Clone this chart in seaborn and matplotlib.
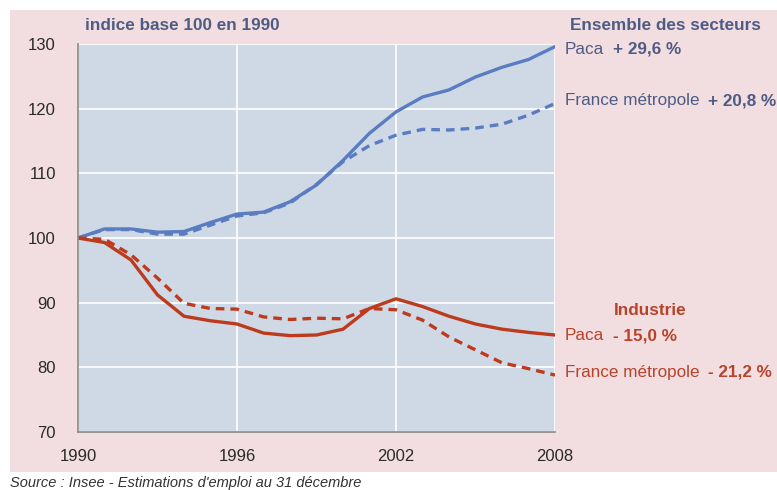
import matplotlib
matplotlib.use("Agg")
import matplotlib.pyplot as plt
import seaborn as sns
import pandas as pd
from matplotlib.patches import Rectangle

years = list(range(1990, 2009))
paca_total = [100, 101.4, 101.4, 100.9, 101.0, 102.4, 103.7, 104.0, 105.6, 108.2,
              112.0, 116.2, 119.5, 121.8, 122.9, 124.9, 126.4, 127.6, 129.6]
france_total = [100, 101.3, 101.3, 100.6, 100.6, 102.0, 103.4, 103.9, 105.4, 108.3,
                111.8, 114.3, 115.9, 116.8, 116.7, 117.0, 117.6, 119.0, 120.8]
paca_ind = [100, 99.3, 96.6, 91.2, 87.9, 87.2, 86.7, 85.3, 84.9, 85.0,
            85.9, 89.1, 90.6, 89.4, 87.9, 86.7, 85.9, 85.4, 85.0]
france_ind = [100, 99.8, 97.4, 93.8, 89.9, 89.1, 89.0, 87.8, 87.4, 87.6,
              87.5, 89.1, 88.9, 87.3, 84.7, 82.7, 80.7, 79.8, 78.8]

yticks = [70, 80, 90, 100, 110, 120, 130]
xticks = [1990, 1996, 2002, 2008]

BLUE = "#5a7cc0"
RED = "#bd3a1d"
BLUE_TXT = "#4e5c84"
RED_TXT = "#b8432a"
PINK = "#f2dde0"
PLOTBG = "#cfd9e6"

df = pd.DataFrame({
    "year": years * 4,
    "value": paca_total + france_total + paca_ind + france_ind,
    "series": (["pt"] * 19) + (["ft"] * 19) + (["pi"] * 19) + (["fi"] * 19),
})

sns.set_theme(style="white")
plt.rcParams["font.family"] = ["Liberation Sans", "DejaVu Sans"]

fig = plt.figure(figsize=(7.77, 4.90), dpi=100, facecolor="white")
fig.patches.append(Rectangle((10 / 777, 1 - 472 / 490), 767 / 777, 462 / 490,
                             transform=fig.transFigure, facecolor=PINK,
                             edgecolor="none", zorder=-10))
ax = fig.add_axes([78 / 777, 1 - 432 / 490, (555 - 78) / 777, (432 - 44) / 490])
ax.set_facecolor(PLOTBG)

styles = {"pt": (BLUE, ""), "ft": (BLUE, (2.6, 1.8)),
          "pi": (RED, ""), "fi": (RED, (2.6, 1.8))}
for key, (col, dash) in styles.items():
    sub = df[df["series"] == key]
    sns.lineplot(data=sub, x="year", y="value", ax=ax, color=col,
                 linewidth=2.4, legend=False)
    if dash:
        ax.lines[-1].set_dashes(dash)

ax.set_xlim(1990, 2008)
ax.set_ylim(70, 130)
ax.set_xticks(xticks)
ax.set_yticks(yticks)
ax.set_xticklabels([str(x) for x in xticks])
ax.set_yticklabels([str(y) for y in yticks])
ax.set_xlabel("")
ax.set_ylabel("")
ax.grid(True, color="white", linewidth=1.2)
ax.set_axisbelow(True)
for s in ["top", "right"]:
    ax.spines[s].set_visible(False)
for s in ["left", "bottom"]:
    ax.spines[s].set_color("#8a8a8a")
    ax.spines[s].set_linewidth(1.2)
ax.tick_params(axis="both", length=0, labelsize=12, colors="#2a2a2a")
ax.tick_params(axis="y", pad=16)
ax.tick_params(axis="x", pad=12)

fig.text(85 / 777, 1 - 25 / 490, "indice base 100 en 1990", fontsize=12.3,
         fontweight="bold", color=BLUE_TXT, va="center", ha="left")

FS = 12.3

def label(x, y, normal, bold, color):
    t = fig.text(x / 777, 1 - y / 490, normal, fontsize=FS, color=color,
                 va="center", ha="left")
    fig.add_artist(matplotlib.text.Annotation(
        bold, xy=(1, 0.5), xycoords=t, xytext=(6, 0),
        textcoords="offset points", fontsize=FS, fontweight="bold",
        color=color, va="center", ha="left", annotation_clip=False))

fig.text(665 / 777, 1 - 25 / 490, "Ensemble des secteurs", fontsize=FS,
         fontweight="bold", color=BLUE_TXT, va="center", ha="center")
label(565, 49, "Paca", "+ 29,6 %", BLUE_TXT)
label(565, 101, "France métropole", "+ 20,8 %", BLUE_TXT)
fig.text(650 / 777, 1 - 310 / 490, "Industrie", fontsize=FS,
         fontweight="bold", color=RED_TXT, va="center", ha="center")
label(565, 336, "Paca", "- 15,0 %", RED_TXT)
label(565, 372, "France métropole", "- 21,2 %", RED_TXT)

fig.text(10 / 777, 1 - 483 / 490, "Source : Insee - Estimations d'emploi au 31 décembre",
         fontsize=10.5, fontstyle="italic", color="#333333", va="center", ha="left")

fig.savefig("out.png", dpi=100, facecolor="white")
